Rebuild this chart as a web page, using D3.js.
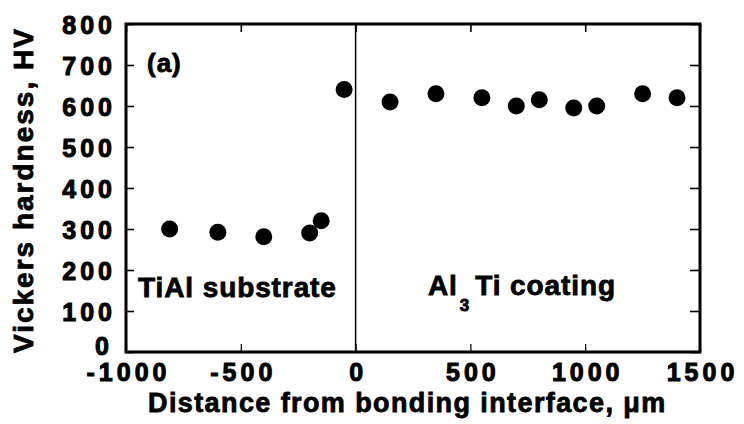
<!DOCTYPE html>
<html>
<head>
<meta charset="utf-8">
<script src="https://cdn.jsdelivr.net/npm/d3@7"></script>
<style>
  html, body { margin: 0; padding: 0; background: #fff; }
  svg { display: block; }
  text { font-family: "Liberation Sans", Arial, Helvetica, sans-serif; font-weight: bold; fill: #000; }
</style>
</head>
<body>
<svg id="chart" width="744" height="424"></svg>
<script>
// Vickers hardness across the TiAl / Al3Ti bonding interface
const substrateDistance = [-810, -600, -400, -200, -150, -50];
const substrateHardness = [300, 292, 281, 290, 320, 640];
const coatingDistance = [150, 350, 550, 700, 800, 950, 1050, 1250, 1400];
const coatingHardness = [610, 630, 620, 600, 615, 595, 600, 630, 620];

const xTicks = [-1000, -500, 0, 500, 1000, 1500];
const yTicks = [0, 100, 200, 300, 400, 500, 600, 700, 800];

const svg = d3.select("#chart");
const margin = { left: 126, top: 24, right: 44, bottom: 72 };
const W = 744, H = 424;
const innerW = W - margin.left - margin.right;
const innerH = H - margin.top - margin.bottom;

const x = d3.scaleLinear().domain([-1000, 1500]).range([0, innerW]);
const y = d3.scaleLinear().domain([0, 800]).range([innerH, 0]);

const g = svg.append("g").attr("transform", `translate(${margin.left},${margin.top})`);

const tickFont = 25, tickSpacing = 4;
const plain = d => String(d);   // hyphen-minus, no thousands separator

// left axis with inward ticks and labels
const yAxis = g.append("g")
  .call(d3.axisLeft(y).tickValues(yTicks).tickFormat(plain)
    .tickSizeInner(-8).tickSizeOuter(0).tickPadding(14 - tickSpacing));
yAxis.select(".domain").remove();
yAxis.selectAll("line").attr("stroke", "#000").attr("stroke-width", 1.6);
yAxis.selectAll("text")
  .attr("font-size", tickFont)
  .attr("letter-spacing", tickSpacing)
  .attr("font-family", null)
  .attr("stroke", "#000").attr("stroke-width", 1)
  .attr("dy", d => d === 0 ? "0.1em" : "0.36em")
  .attr("dx", d => d === 0 ? -3 : 0);

// right axis: ticks only
const yAxisR = g.append("g").attr("transform", `translate(${innerW},0)`)
  .call(d3.axisRight(y).tickValues(yTicks).tickSizeInner(-10).tickSizeOuter(0).tickFormat(""));
yAxisR.select(".domain").remove();
yAxisR.selectAll("line").attr("stroke", "#000").attr("stroke-width", 1.6);

// bottom axis with labels
const xAxis = g.append("g").attr("transform", `translate(0,${innerH})`)
  .call(d3.axisBottom(x).tickValues(xTicks).tickFormat(plain)
    .tickSizeInner(-8).tickSizeOuter(0).tickPadding(11));
xAxis.select(".domain").remove();
xAxis.selectAll("line").attr("stroke", "#000").attr("stroke-width", 1.2);
xAxis.selectAll("text")
  .attr("font-size", tickFont)
  .attr("letter-spacing", tickSpacing)
  .attr("font-family", null)
  .attr("dx", tickSpacing / 2)
  .attr("stroke", "#000").attr("stroke-width", 1);

// top axis: ticks only
const xAxisT = g.append("g")
  .call(d3.axisTop(x).tickValues(xTicks).tickSizeInner(-8).tickSizeOuter(0).tickFormat(""));
xAxisT.select(".domain").remove();
xAxisT.selectAll("line").attr("stroke", "#000").attr("stroke-width", 1.6);

// interface line at x = 0
g.append("line")
  .attr("x1", x(0)).attr("x2", x(0))
  .attr("y1", 0).attr("y2", innerH)
  .attr("stroke", "#000").attr("stroke-width", 1.5);

// plot frame
g.append("rect")
  .attr("x", 0).attr("y", 0).attr("width", innerW).attr("height", innerH)
  .attr("fill", "none").attr("stroke", "#000").attr("stroke-width", 3);

// data points
const points = substrateDistance.map((d, i) => [d, substrateHardness[i]])
  .concat(coatingDistance.map((d, i) => [d, coatingHardness[i]]));
g.selectAll("circle.pt").data(points).join("circle")
  .attr("class", "pt")
  .attr("cx", d => x(d[0])).attr("cy", d => y(d[1]))
  .attr("r", 8.5).attr("fill", "#000");

// annotations
g.append("text").attr("x", 21).attr("y", 48)
  .attr("font-size", 26).attr("letter-spacing", 1)
  .attr("stroke", "#000").attr("stroke-width", 0.8)
  .text("(a)");

g.append("text").attr("x", 12).attr("y", 273)
  .attr("font-size", 28).attr("letter-spacing", 0.9)
  .attr("stroke", "#000").attr("stroke-width", 0.8)
  .text("TiAl substrate");

const coat = g.append("text").attr("x", 302).attr("y", 271)
  .attr("font-size", 28).attr("letter-spacing", 0.9)
  .attr("stroke", "#000").attr("stroke-width", 0.8);
coat.append("tspan").text("Al");
coat.append("tspan").attr("font-size", 17).attr("dy", 16).attr("dx", 2).text("3");
coat.append("tspan").attr("dy", -16).attr("dx", 5).text("Ti coating");

// axis titles
svg.append("text")
  .attr("x", 148).attr("y", 412)
  .attr("font-size", 27).attr("letter-spacing", 1.4)
  .attr("stroke", "#000").attr("stroke-width", 0.8)
  .text("Distance from bonding interface, \u03bcm");

svg.append("text")
  .attr("transform", "translate(33,353) rotate(-90)")
  .attr("font-size", 28).attr("letter-spacing", 2)
  .attr("stroke", "#000").attr("stroke-width", 0.8)
  .text("Vickers hardness, HV");
</script>
</body>
</html>
